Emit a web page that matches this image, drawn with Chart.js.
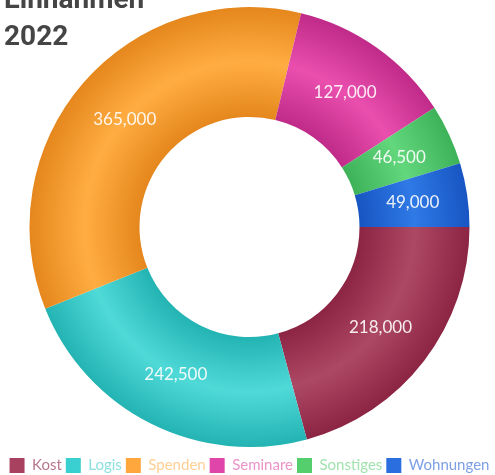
<!DOCTYPE html>
<html>
<head>
<meta charset="utf-8">
<script src="https://cdn.jsdelivr.net/npm/chart.js@4/dist/chart.umd.min.js"></script>
<style>
    body { margin: 0; background: #fff; }
    #wrap { position: relative; width: 495px; height: 475px; }
    #title {
        position: absolute;
        left: 4px;
        top: -20px;
        margin: 0;
        font: bold 28px/37px Roboto, sans-serif;
        color: #454545;
        z-index: 2;
    }
</style>
</head>
<body>
<div id="wrap">
    <h2 id="title">Einnahmen<br>2022</h2>
    <canvas id="incomeChart"></canvas>
</div>
<script>
const categories = ["Kost", "Logis", "Spenden", "Seminare", "Sonstiges", "Wohnungen"];
const amounts = [218000, 242500, 365000, 127000, 46500, 49000];

// ring shading: lighter middle band, darker edges
const lightColors = ["#ad4864", "#4fdad8", "#ffad42", "#ea4fae", "#62d77c", "#2f7ae6"];
const darkColors = ["#8c2444", "#24b3b3", "#e5871c", "#c02a88", "#3db259", "#1755c2"];
const legendColors = ["#a8405f", "#3acfd0", "#ffa63c", "#e046aa", "#55cf6e", "#2a6ee0"];
const legendTextColors = ["#b8778f", "#8ee0e0", "#ffcf94", "#ec93c9", "#a2e2ae", "#7d9fe4"];

function ringGradient(context) {
    const i = context.dataIndex;
    const chart = context.chart;
    const ctrl = chart.getDatasetMeta(0).controller;
    const area = chart.chartArea;
    if (!area || !ctrl || !ctrl.outerRadius) return lightColors[i];
    const cx = (area.left + area.right) / 2;
    const cy = (area.top + area.bottom) / 2;
    const g = chart.ctx.createRadialGradient(cx, cy, ctrl.innerRadius, cx, cy, ctrl.outerRadius);
    g.addColorStop(0, darkColors[i]);
    g.addColorStop(0.5, lightColors[i]);
    g.addColorStop(1, darkColors[i]);
    return g;
}

const valueLabels = {
    id: "valueLabels",
    afterDatasetsDraw(chart) {
        const ctx = chart.ctx;
        ctx.save();
        ctx.font = "17px Lato";
        ctx.fillStyle = "rgba(255,255,255,0.9)";
        ctx.textAlign = "center";
        ctx.textBaseline = "middle";
        chart.getDatasetMeta(0).data.forEach((arc, i) => {
            const pos = arc.tooltipPosition();
            ctx.fillText(amounts[i].toLocaleString("en-US"), pos.x, pos.y);
        });
        ctx.restore();
    }
};

new Chart(document.getElementById("incomeChart"), {
    type: "doughnut",
    data: {
        labels: categories,
        datasets: [{
            data: amounts,
            backgroundColor: ringGradient,
            borderWidth: 0,
            radius: 220,
            cutout: "50%"
        }]
    },
    options: {
        responsive: true,
        maintainAspectRatio: false,
        animation: false,
        rotation: 90,
        layout: { padding: { left: 4, top: -7, bottom: -8 } },
        plugins: {
            tooltip: { enabled: false },
            legend: {
                position: "bottom",
                labels: {
                    boxWidth: 15,
                    boxHeight: 15,
                    padding: 4,
                    font: { family: "Lato", size: 15 },
                    generateLabels: function() {
                        return categories.map((name, i) => ({
                            text: name,
                            fillStyle: legendColors[i],
                            strokeStyle: legendColors[i],
                            lineWidth: 0,
                            fontColor: legendTextColors[i],
                            hidden: false,
                            index: i
                        }));
                    }
                }
            }
        }
    },
    plugins: [valueLabels]
});
</script>
</body>
</html>
